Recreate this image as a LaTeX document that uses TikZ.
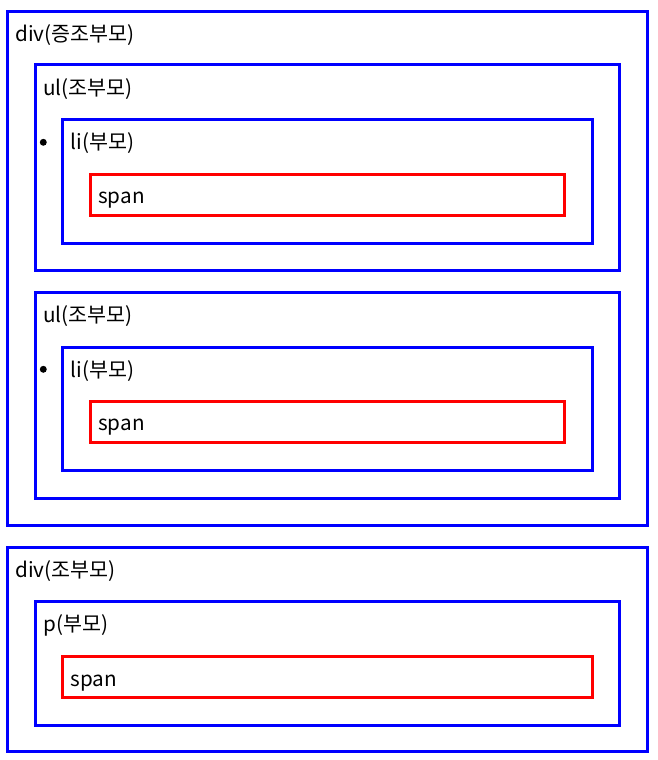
\documentclass[tikz,border=0pt]{standalone}
\usepackage{fontspec}
\setmainfont{Noto Sans CJK KR}
\usetikzlibrary{fit}
\definecolor{boxblue}{RGB}{0,0,255}
\definecolor{boxred}{RGB}{255,0,0}
\tikzset{
  bluebox/.style={draw=boxblue, line width=2.25pt, inner sep=0pt, outer sep=0pt},
  redbox/.style={draw=boxred, line width=2.25pt, inner sep=0pt, outer sep=0pt},
  lbl/.style={anchor=base west, inner sep=0pt, font=\fontsize{15.5pt}{18pt}\selectfont},
  bulletdot/.style={fill=black, circle, inner sep=0pt, minimum size=5.2pt}
}
\begin{document}
\begin{tikzpicture}[x=0.75pt, y=-0.75pt]
\useasboundingbox (0,0) rectangle (657,760);
% first div
\node[bluebox, fit={(7.5,11.5)(647.5,525.8)}] (div1) {};
\node[lbl] (div1t) at (15,41) {div(증조부모)};
\node[bluebox, fit={(35.5,64.5)(619.5,270.3)}] (ul1) {};
\node[lbl] (ul1t) at (43,95) {ul(조부모)};
\node[bluebox, fit={(62.5,119.5)(592.5,243.5)}] (li1) {};
\node[bulletdot] (b1) at (43.3,142.3) {};
\node[lbl] (li1t) at (70.5,149.7) {li(부모)};
\node[redbox, fit={(90.5,174.5)(564.5,215)}] (span1) {};
\node[lbl] (span1t) at (98,203.5) {span};
\node[bluebox, fit={(35.5,292.8)(619.5,498.5)}] (ul2) {};
\node[lbl] (ul2t) at (43,322.2) {ul(조부모)};
\node[bluebox, fit={(62.5,347.8)(592.5,470.5)}] (li2) {};
\node[bulletdot] (b2) at (43.3,369.3) {};
\node[lbl] (li2t) at (70.5,377.2) {li(부모)};
\node[redbox, fit={(90.5,401.5)(564.5,442.5)}] (span2) {};
\node[lbl] (span2t) at (98,430.5) {span};
% second div
\node[bluebox, fit={(7.5,547.5)(647.5,751.8)}] (div2) {};
\node[lbl] (div2t) at (15,577) {div(조부모)};
\node[bluebox, fit={(35.5,601.5)(619.5,725.2)}] (p) {};
\node[lbl] (pt) at (43,631) {p(부모)};
\node[redbox, fit={(62.5,656.5)(592.5,697)}] (span3) {};
\node[lbl] (span3t) at (70.5,686) {span};
\end{tikzpicture}
\end{document}
